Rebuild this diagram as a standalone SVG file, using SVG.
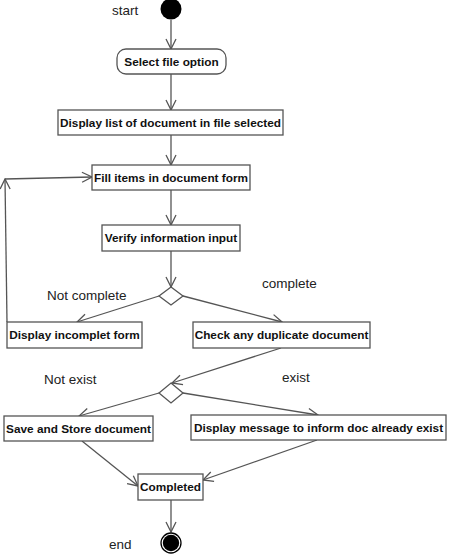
<svg xmlns="http://www.w3.org/2000/svg" width="453" height="557" viewBox="0 0 453 557">
<style>
.box{fill:#fff;stroke:#555;stroke-width:1.3}
.lbl{font-family:"Liberation Sans",Arial,sans-serif;font-weight:bold;font-size:11.8px;fill:#111;text-anchor:middle}
.gl{font-family:"Liberation Sans",Arial,sans-serif;font-size:13.5px;fill:#222}
.edge{fill:none;stroke:#555;stroke-width:1.3;marker-end:url(#arr)}
</style>
<defs>
<marker id="arr" viewBox="0 0 12 12" refX="11" refY="6" markerWidth="12" markerHeight="12" markerUnits="userSpaceOnUse" orient="auto">
<path d="M1,1 L11,6 L1,11" fill="none" stroke="#555" stroke-width="1.3"/>
</marker>
</defs>
<rect width="453" height="557" fill="#fff"/>
<g id="connectors">
<path class="edge" d="M171,20 V49"/>
<path class="edge" d="M171,74 V110"/>
<path class="edge" d="M171,135 V165"/>
<path class="edge" d="M171,190 V225"/>
<path class="edge" d="M171,251 V287"/>
<path class="edge" d="M159,296 L77,322"/>
<path class="edge" d="M183,296 L282,322"/>
<path class="edge" d="M7,322 L5,179"/>
<path class="edge" d="M5,179 L92,177"/>
<path class="edge" d="M281,348 L172,383"/>
<path class="edge" d="M159,393 L79,416"/>
<path class="edge" d="M183,393 L318,415"/>
<path class="edge" d="M82,441 L138,486"/>
<path class="edge" d="M317,440 L203,480"/>
<path class="edge" d="M171,500 V532"/>
</g>
<g id="start">
<circle cx="171" cy="9" r="10.5" fill="#000"/>
<text class="gl" x="112" y="15">start</text>
</g>
<g id="select">
<rect class="box" x="117" y="49" width="109" height="25" rx="9"/>
<text class="lbl" x="171.5" y="65.5">Select file option</text>
</g>
<g id="display-list">
<rect class="box" x="58" y="110" width="225" height="25"/>
<text class="lbl" x="170.5" y="126.5">Display list of document in file selected</text>
</g>
<g id="fill">
<rect class="box" x="92" y="165" width="158" height="25"/>
<text class="lbl" x="171" y="181.5">Fill items in document form</text>
</g>
<g id="verify">
<rect class="box" x="102" y="225" width="138" height="26"/>
<text class="lbl" x="171" y="242">Verify information input</text>
</g>
<g id="decision1">
<path d="M171,287 L183,296 L171,305 L159,296 Z" fill="#fff" stroke="#555" stroke-width="1.3"/>
<text class="gl" x="47" y="300">Not complete</text>
<text class="gl" x="262" y="288">complete</text>
</g>
<g id="incomplete">
<rect class="box" x="7" y="322" width="135" height="26"/>
<text class="lbl" x="74.5" y="339">Display incomplet form</text>
</g>
<g id="check">
<rect class="box" x="193" y="322" width="177" height="26"/>
<text class="lbl" x="281.5" y="339">Check any duplicate document</text>
</g>
<g id="decision2">
<path d="M171,383 L183,393 L171,403 L159,393 Z" fill="#fff" stroke="#555" stroke-width="1.3"/>
<text class="gl" x="44" y="384">Not exist</text>
<text class="gl" x="282" y="382">exist</text>
</g>
<g id="save">
<rect class="box" x="4" y="416" width="149" height="25"/>
<text class="lbl" x="78.5" y="432.5">Save and Store document</text>
</g>
<g id="message">
<rect class="box" x="191" y="415" width="255" height="25"/>
<text class="lbl" x="318.5" y="431.5">Display message to inform doc already exist</text>
</g>
<g id="completed">
<rect class="box" x="138" y="474" width="65" height="26"/>
<text class="lbl" x="170.5" y="491">Completed</text>
</g>
<g id="end">
<circle cx="171" cy="543" r="10" fill="#fff" stroke="#000" stroke-width="1.3"/>
<circle cx="171" cy="543" r="8.2" fill="#000"/>
<text class="gl" x="109" y="549">end</text>
</g>
</svg>
